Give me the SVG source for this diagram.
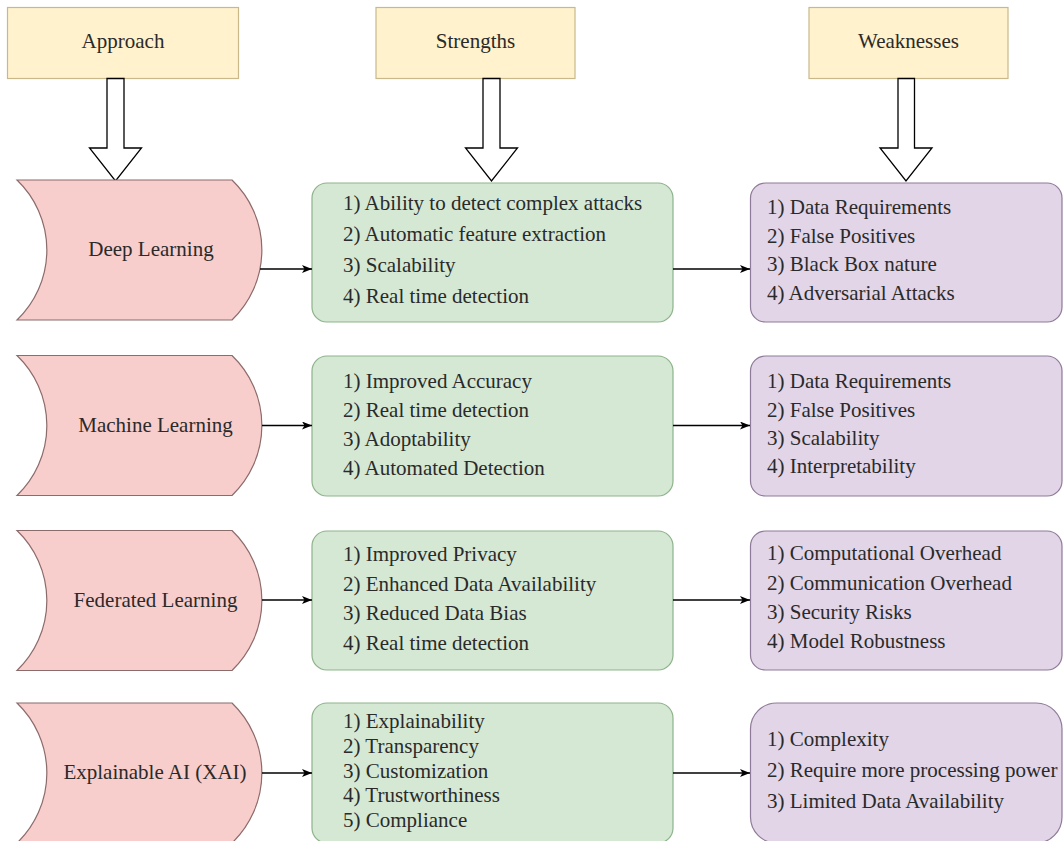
<svg xmlns="http://www.w3.org/2000/svg" width="1063" height="841" viewBox="0 0 1063 841">
<style>
text{font-family:"Liberation Serif","Times New Roman",serif;font-size:21px;fill:#2a2a2a}
.hdr{fill:#fff2cc;stroke:#c9b98a;stroke-width:1.2}
.pk{fill:#f8cecc;stroke:#8c6b6b;stroke-width:1.2}
.gr{fill:#d5e8d4;stroke:#8db38a;stroke-width:1.2}
.pu{fill:#e1d5e7;stroke:#8f7a99;stroke-width:1.2}
.blk{fill:#ffffff;stroke:#000;stroke-width:1.3}
.c{text-anchor:middle}
.ln{stroke:#000;stroke-width:1.3;fill:none}
</style>
<defs>
<marker id="ah" viewBox="0 0 10 8" refX="10" refY="4" markerWidth="10" markerHeight="8" markerUnits="userSpaceOnUse" orient="auto">
<path d="M0,0 L10,4 L0,8 L2.5,4 Z" fill="#000"/>
</marker>
</defs>

<g id="hdr-approach"><rect class="hdr" x="7.5" y="7.5" width="231" height="71"/><text class="c" x="123" y="48">Approach</text></g>
<g id="hdr-strengths"><rect class="hdr" x="376" y="7.5" width="199" height="71"/><text class="c" x="475.5" y="48">Strengths</text></g>
<g id="hdr-weaknesses"><rect class="hdr" x="809" y="7.5" width="199" height="71"/><text class="c" x="908.5" y="48">Weaknesses</text></g>

<g id="blockarrows">
<polygon class="blk" points="107,78.5 124,78.5 124,148 141.5,148 115.5,181 89.5,148 107,148"/>
<polygon class="blk" points="483,78.5 500,78.5 500,148 517.5,148 491.5,181 465.5,148 483,148"/>
<polygon class="blk" points="898,78.5 914.5,78.5 914.5,148 932,148 906,181 880,148 898,148"/>
</g>

<g id="dl"><path class="pk" d="M17,180 L232,180 A97,97 0 0 1 232,320 L17,320 A97,97 0 0 0 17,180 Z"/><text class="c" x="151" y="256">Deep Learning</text></g>
<g id="ml"><path class="pk" d="M17,355.5 L232,355.5 A97,97 0 0 1 232,495.5 L17,495.5 A97,97 0 0 0 17,355.5 Z"/><text class="c" x="155.5" y="432">Machine Learning</text></g>
<g id="fl"><path class="pk" d="M17,530.5 L232,530.5 A97,97 0 0 1 232,670.5 L17,670.5 A97,97 0 0 0 17,530.5 Z"/><text class="c" x="155.5" y="607">Federated Learning</text></g>
<g id="xai"><path class="pk" d="M17,703 L232,703 A97,97 0 0 1 232,843 L17,843 A97,97 0 0 0 17,703 Z"/><text class="c" x="155" y="779">Explainable AI (XAI)</text></g>

<g id="s1"><rect class="gr" x="312" y="183" width="361" height="139" rx="15"/>
<text x="343" y="210">1) Ability to detect complex attacks</text>
<text x="343" y="241">2) Automatic feature extraction</text>
<text x="343" y="272">3) Scalability</text>
<text x="343" y="303">4) Real time detection</text></g>
<g id="s2"><rect class="gr" x="312" y="356" width="361" height="140" rx="15"/>
<text x="343" y="388">1) Improved Accuracy</text>
<text x="343" y="417">2) Real time detection</text>
<text x="343" y="446">3) Adoptability</text>
<text x="343" y="475">4) Automated Detection</text></g>
<g id="s3"><rect class="gr" x="312" y="531" width="361" height="139" rx="15"/>
<text x="343" y="561">1) Improved Privacy</text>
<text x="343" y="591">2) Enhanced Data Availability</text>
<text x="343" y="620">3) Reduced Data Bias</text>
<text x="343" y="650">4) Real time detection</text></g>
<g id="s4"><rect class="gr" x="312" y="703" width="361" height="140" rx="15"/>
<text x="343" y="728">1) Explainability</text>
<text x="343" y="753">2) Transparency</text>
<text x="343" y="778">3) Customization</text>
<text x="343" y="802">4) Trustworthiness</text>
<text x="343" y="827">5) Compliance</text></g>

<g id="w1"><rect class="pu" x="750.5" y="183" width="311.5" height="139" rx="15"/>
<text x="767" y="214">1) Data Requirements</text>
<text x="767" y="243">2) False Positives</text>
<text x="767" y="271">3) Black Box nature</text>
<text x="767" y="300">4) Adversarial Attacks</text></g>
<g id="w2"><rect class="pu" x="750.5" y="356" width="311.5" height="140" rx="15"/>
<text x="767" y="388">1) Data Requirements</text>
<text x="767" y="417">2) False Positives</text>
<text x="767" y="445">3) Scalability</text>
<text x="767" y="473">4) Interpretability</text></g>
<g id="w3"><rect class="pu" x="750.5" y="531" width="311.5" height="139" rx="15"/>
<text x="767" y="560">1) Computational Overhead</text>
<text x="767" y="590">2) Communication Overhead</text>
<text x="767" y="619">3) Security Risks</text>
<text x="767" y="648">4) Model Robustness</text></g>
<g id="w4"><rect class="pu" x="750.5" y="703" width="311.5" height="140" rx="26"/>
<text x="767" y="746">1) Complexity</text>
<text x="767" y="777">2) Require more processing power</text>
<text x="767" y="808">3) Limited Data Availability</text></g>

<g id="connectors">
<path class="ln" d="M260,269 L312,269" marker-end="url(#ah)"/>
<path class="ln" d="M673,269 L750,269" marker-end="url(#ah)"/>
<path class="ln" d="M262,425.5 L312,425.5" marker-end="url(#ah)"/>
<path class="ln" d="M673,425.5 L750,425.5" marker-end="url(#ah)"/>
<path class="ln" d="M262,600 L312,600" marker-end="url(#ah)"/>
<path class="ln" d="M673,600 L750,600" marker-end="url(#ah)"/>
<path class="ln" d="M262,773 L312,773" marker-end="url(#ah)"/>
<path class="ln" d="M673,773 L750,773" marker-end="url(#ah)"/>
</g>
</svg>
